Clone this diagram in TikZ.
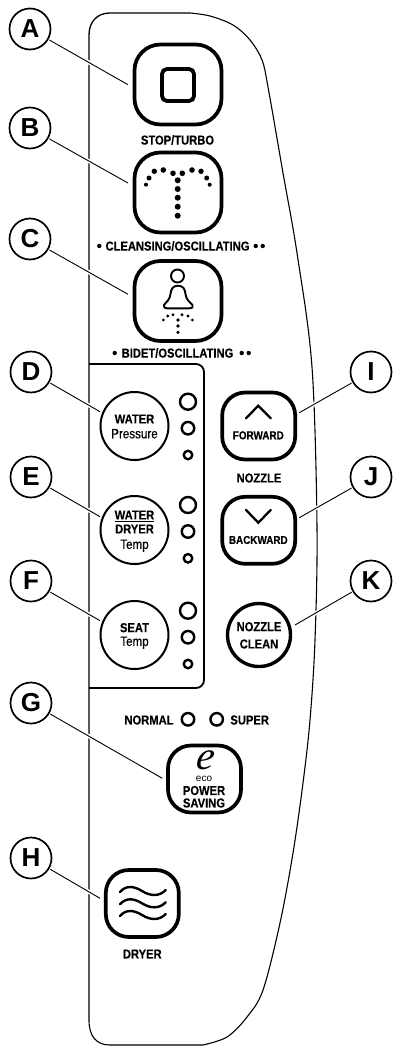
\documentclass[tikz,border=0pt]{standalone}
\usepackage{fontspec}
\setmainfont{Liberation Sans}
\newfontfamily\lbb[FakeStretch=0.86,FakeBold=0.25]{Liberation Sans Bold}
\newfontfamily\lbr[FakeStretch=0.86,FakeBold=0.5]{Liberation Sans}
\newfontfamily\lreg{Liberation Sans}
\newfontfamily\ltr{Liberation Sans Bold}
\newfontfamily\ecoe[FakeSlant=0.15]{Liberation Serif Italic}
\tikzset{
  x=1pt,y=-1pt,
  outline/.style={draw=black,line width=1.1pt},
  callout/.style={circle,draw=black,line width=1.7pt,minimum size=41pt,inner sep=0pt,fill=white,font=\ltr\fontsize{26}{26}\selectfont},
  leader/.style={draw=black,line width=0.9pt,preaction={draw=white,line width=4pt}},
  btnlarge/.style={draw=black,line width=3.7pt,rounded corners=26pt,minimum width=87pt,minimum height=80pt,inner sep=0pt},
  btnsmall/.style={draw=black,line width=3.7pt,rounded corners=23pt,minimum width=73pt,minimum height=67pt,inner sep=0pt},
  round button/.style={circle,draw=black,line width=2pt,minimum size=68pt,inner sep=0pt},
  led/.style={circle,draw=black,line width=2.4pt,inner sep=0pt},
  lab/.style={inner sep=0pt,font=\lbb\fontsize{13}{13}\selectfont},
  labs/.style={inner sep=0pt,font=\lbb\fontsize{11.5}{12}\selectfont},
  labr/.style={inner sep=0pt,font=\lbr\fontsize{13.5}{13}\selectfont},
  dotb/.style={circle,fill=black,inner sep=0pt,minimum size=#1},
}
\begin{document}
\begin{tikzpicture}
\useasboundingbox (0,0) rectangle (393,1046);
% panel outline
\draw[outline,line width=1.3pt] (89,1020) -- (89,35) .. controls (89,22) and (97,13) .. (110,13) -- (190,13);
\draw[outline] plot[smooth,tension=0.55] coordinates {(190,13) (210,16) (233,25) (250,40) (262,60) (268,87) (283,173) (297,253) (312,367) (317,527) (315,640) (310,720) (303,783) (293,853) (280,923) (263,990) (247,1017) (227,1037) (203,1045)};
\draw[outline] (89,1020) .. controls (89,1036) and (96,1045) .. (110,1045) -- (203,1045);
% group box
\draw[draw=black,line width=1.8pt,rounded corners=8pt] (89,364) -- (204,364) -- (204,688) -- (89,688);
% large buttons
\node[btnlarge] (btnA) at (178,84.5) {};
\node[btnlarge] (btnB) at (178,192.5) {};
\node[btnlarge] (btnC) at (178,301) {};
\node[draw=black,line width=3.8pt,rounded corners=5pt,minimum width=32pt,minimum height=32pt,inner sep=0pt] (stopsq) at (178,85) {};
\node[lab] (tA) at (177.5,140) {STOP/TURBO};
% cleansing dots
\foreach \px/\py/\s in {177.7/180.3/6,177.7/189/6,177.7/197.7/6,177.7/206.7/6,177.7/215.7/6,
  173/173.3/5.6,182.3/173.3/5.6,163.3/170/5.6,192/170/5.6,154.3/171.3/5.4,201/171.3/5.4,149/178/5,206.7/178/5,146/184.7/4,209.7/184.7/4}
  \node[dotb=\s pt] at (\px,\py) {};
\node[lab] (tB) at (177.5,246) {CLEANSING/OSCILLATING};
\foreach \px in {99.3,255.7,262.7}
  \node[dotb=4.4pt] at (\px,246) {};
% bidet figure
\node[circle,draw=black,line width=1.9pt,minimum size=13pt,inner sep=0pt] (head) at (177.5,276) {};
\draw[line width=1.9pt,line join=round] (178,285.7) .. controls (173,285.7) and (171,289) .. (170.5,294) .. controls (170,300) and (166,302) .. (164,305) .. controls (163,307.5) and (165,308.3) .. (167,308.3) -- (189,308.3) .. controls (192,308.3) and (194,307) .. (192.5,305) .. controls (190,302) and (186,300) .. (185.5,294) .. controls (185,289) and (183,285.7) .. (178,285.7) -- cycle;
\foreach \px/\py/\s in {178/320/3.6,178/326/3.6,178/332.3/3.6,173/314.7/3.2,182/314.7/3.2,167.7/316/3.2,188/316/3.2,163.3/320/3,192.3/320/3}
  \node[dotb=\s pt] at (\px,\py) {};
\node[lab] (tC) at (177.5,353) {BIDET/OSCILLATING};
\foreach \px in {114.7,241.7,248.7}
  \node[dotb=4.4pt] at (\px,353) {};
% round buttons
\node[round button] (btnD) at (134.5,426) {};
\node[round button] (btnE) at (134.5,530) {};
\node[round button] (btnF) at (134.5,635) {};
\node[lab] (tD1) at (134.5,419) {WATER};
\node[labr] (tD2) at (134.5,433.7) {Pressure};
\node[lab] (tE1) at (134.5,515) {WATER};
\draw[line width=0.9pt] (tE1.south west) ++(0,1.5) coordinate (ue1) -- (tE1.south east |- ue1);
\node[lab] (tE2) at (134.5,529) {DRYER};
\node[labr] (tE3) at (134.5,545.7) {Temp};
\node[lab] (tF1) at (134.5,627.7) {SEAT};
\node[labr] (tF2) at (134.5,642.7) {Temp};
% leds
\foreach \n/\oy in {D/401.7,E/505,F/610.7}{
  \node[led,minimum size=16pt] (led\n a) at (188,\oy) {};
  \node[led,minimum size=12.5pt] (led\n b) at (188,\oy+26.5) {};
  \node[led,minimum size=8.5pt] (led\n c) at (188,\oy+53.3) {};
}
% nozzle buttons
\node[btnsmall] (btnI) at (258.7,426) {};
\node[btnsmall] (btnJ) at (258.7,530.3) {};
\draw[line width=2.3pt,line cap=round] (246,418.3) -- (258.3,405.7) -- (270.7,418.3);
\draw[line width=2.3pt,line cap=round] (246,510) -- (258.3,522.7) -- (270.7,510);
\node[labs] (tI) at (258.3,435.3) {FORWARD};
\node[lab] (tN) at (259,478) {NOZZLE};
\node[labs] (tJ) at (258.3,540) {BACKWARD};
\node[circle,draw=black,line width=3.4pt,minimum size=63pt,inner sep=0pt] (btnK) at (259,635) {};
\node[lab] (tK1) at (259,626.7) {NOZZLE};
\node[lab] (tK2) at (259,644) {CLEAN};
% power saving
\node[lab] (tNorm) at (149,720) {NORMAL};
\node[led,minimum size=12.5pt] (ledN) at (188,719.3) {};
\node[led,minimum size=12.5pt] (ledS) at (216.7,719.3) {};
\node[lab] (tSup) at (249.7,720) {SUPER};
\node[btnsmall] (btnG) at (204.5,779) {};
\node[inner sep=0pt,font=\ecoe\fontsize{40}{40}\selectfont] (tE) at (204,760) {e};
\node[inner sep=0pt,font=\lreg\fontsize{10}{10}\selectfont] (tEco) at (204,779) {eco};
\node[lab] (tG1) at (204,790.5) {POWER};
\node[lab] (tG2) at (204,803) {SAVING};
% dryer
\node[btnsmall] (btnH) at (142.3,903.5) {};
\foreach \wy in {891,903.3,915}
  \draw[line width=2.4pt,line cap=round] (120,\wy+1) .. controls (126,\wy-6) and (134,\wy-5) .. (142,\wy) .. controls (150,\wy+5) and (159,\wy+6) .. (165.7,\wy-1);
\node[lab] (tH) at (142.3,954) {DRYER};
% leader ends
\coordinate (ea) at (128,84.7);
\coordinate (eb) at (128,183);
\coordinate (ec) at (128,294.3);
\coordinate (ed) at (100,411.7);
\coordinate (ee) at (100,516.7);
\coordinate (ef) at (100,620.7);
\coordinate (eg) at (162.3,778.3);
\coordinate (eh) at (100,898.3);
\coordinate (ei) at (299.3,412.7);
\coordinate (ej) at (299.3,517.7);
\coordinate (ek) at (295,625);
% callouts
\foreach \n/\l/\cx/\cy/\e in {cA/A/30/29/ea,cB/B/30/128/eb,cC/C/30/239/ec,cD/D/31/372/ed,cE/E/31/477/ee,cF/F/31/581/ef,cG/G/31/703/eg,cH/H/31/858/eh,cI/I/371/372/ei,cJ/J/371/477/ej,cK/K/371/581/ek}{
  \node[callout] (\n) at (\cx,\cy) {\l};
  \path[leader,shorten <=1pt,shorten >=0pt] (\n) -- (\e);
}
\end{tikzpicture}
\end{document}
